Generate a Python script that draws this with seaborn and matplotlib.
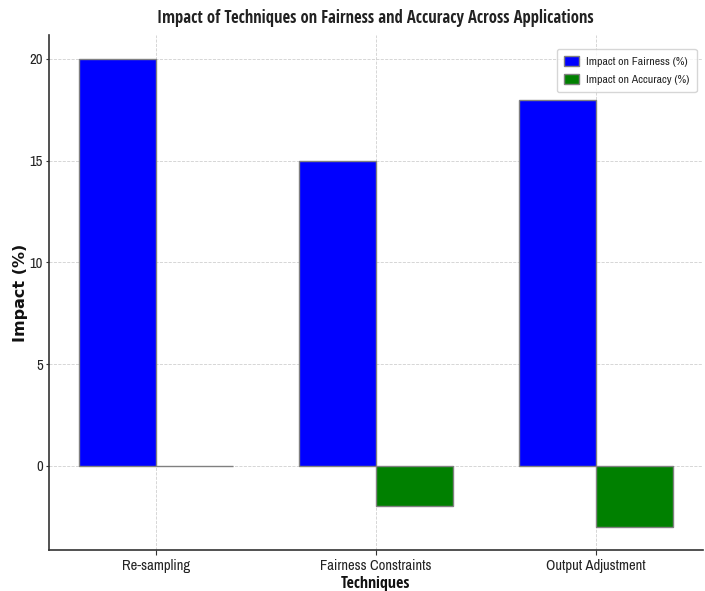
import numpy as np
import pandas as pd
import matplotlib
matplotlib.use("Agg")
import matplotlib.pyplot as plt
import seaborn as sns

techniques = ["Re-sampling", "Fairness Constraints", "Output Adjustment"]
fairness_impact = [20, 15, 18]
accuracy_impact = [0, -2, -3]
series_names = ["Impact on Fairness (%)", "Impact on Accuracy (%)"]

sns.set_style("whitegrid", {"grid.linestyle": "--", "grid.color": "#d0d0d0"})
plt.rcParams["font.family"] = ["Archivo Narrow", "DejaVu Sans"]

# long form table for seaborn
df = pd.DataFrame({
    "Technique": techniques * 2,
    "Impact": fairness_impact + accuracy_impact,
    "Metric": [series_names[0]] * 3 + [series_names[1]] * 3,
})

fig = plt.figure(figsize=(7.05, 5.91), dpi=100)
ax = fig.add_axes([0.0695, 0.069, 0.927, 0.871])

sns.barplot(data=df, x="Technique", y="Impact", hue="Metric",
            palette=["blue", "green"], saturation=1, width=0.7,
            edgecolor="grey", linewidth=1, ax=ax)

ax.set_xlim(-0.486, 2.486)
ax.set_ylim(-4.15, 21.15)
ax.set_yticks([0, 5, 10, 15, 20])
ax.grid(True, linestyle="--", linewidth=0.6, color="#d0d0d0")
ax.set_axisbelow(True)

for s in ["top", "right"]:
    ax.spines[s].set_visible(False)
for s in ["left", "bottom"]:
    ax.spines[s].set_color("#333333")
    ax.spines[s].set_linewidth(1.2)

ax.tick_params(axis="both", labelsize=10.5, colors="#333333",
               left=True, bottom=True)
ax.tick_params(axis="y", length=2.5, pad=2)
ax.tick_params(axis="x", length=3.5, pad=3)
for t in ax.get_xticklabels() + ax.get_yticklabels():
    t.set_color("#222222")

ax.set_title("Impact of Techniques on Fairness and Accuracy Across Applications",
             fontsize=12, fontweight="bold", color="#222222", pad=9,
             family="Open Sans Condensed")
ax.set_xlabel("Techniques", fontsize=11.5, fontweight="bold", color="#111111",
              family="Open Sans Condensed", labelpad=2)
ax.set_ylabel("Impact (%)", fontsize=11.5, fontweight="bold", color="#111111",
              family="DejaVu Sans")
ax.yaxis.set_label_coords(-0.032, 0.5)

ax.legend(loc="upper right", fontsize=8.5, frameon=True, handlelength=1.3,
          handleheight=0.9, handletextpad=0.6, borderpad=0.6,
          labelspacing=0.6, bbox_to_anchor=(1.0, 0.985))

fig.savefig("out.png", dpi=100)
